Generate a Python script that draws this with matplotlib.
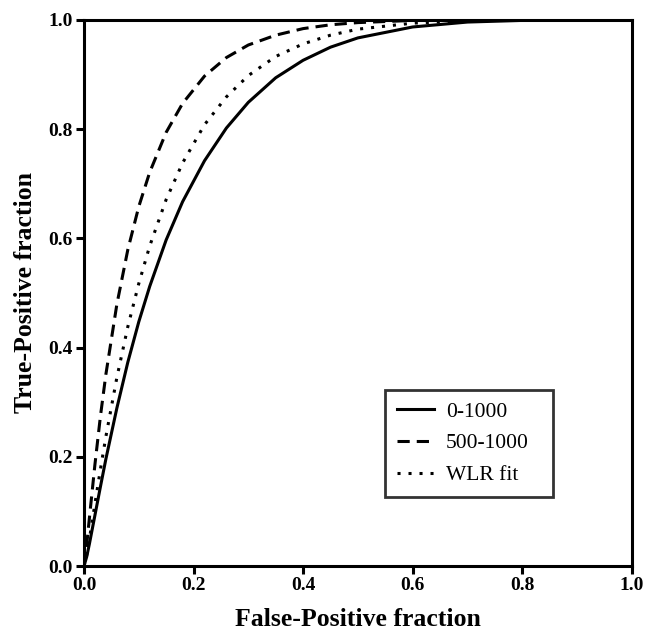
import matplotlib
matplotlib.use('Agg')
import matplotlib.pyplot as plt

# values
fpf = [0.0, 0.005, 0.01, 0.02, 0.03, 0.04, 0.06, 0.08, 0.10, 0.12, 0.15, 0.18,
       0.22, 0.26, 0.30, 0.35, 0.40, 0.45, 0.50, 0.60, 0.70, 0.80, 0.90, 1.0]
tpf_all = [0.0, 0.017, 0.041, 0.093, 0.145, 0.196, 0.289, 0.373, 0.447, 0.512, 0.597, 0.667,
           0.742, 0.802, 0.849, 0.894, 0.926, 0.950, 0.967, 0.987, 0.996, 0.999, 1.0, 1.0]
tpf_500 = [0.0, 0.039, 0.089, 0.186, 0.274, 0.351, 0.479, 0.579, 0.658, 0.721, 0.794, 0.847,
           0.897, 0.931, 0.954, 0.972, 0.984, 0.991, 0.995, 0.999, 1.0, 1.0, 1.0, 1.0]
tpf_wlr = [0.0, 0.020, 0.050, 0.114, 0.177, 0.237, 0.345, 0.438, 0.517, 0.586, 0.671, 0.738,
           0.808, 0.859, 0.898, 0.933, 0.956, 0.972, 0.983, 0.994, 0.9985, 1.0, 1.0, 1.0]
labels = ["0-1000", "500-1000", "WLR fit"]
ticks = [0.0, 0.2, 0.4, 0.6, 0.8, 1.0]

serif = ['Liberation Serif', 'DejaVu Serif']

fig = plt.figure(figsize=(6.46, 6.41), dpi=100)
ax = fig.add_axes([0.130, 0.117, 0.848, 0.852])

lw = 2.2
ax.plot(fpf, tpf_all, color='black', lw=lw, ls='-', label=labels[0])
ax.plot(fpf, tpf_500, color='black', lw=lw, ls=(0, (4, 2.3)), label=labels[1])
ax.plot(fpf, tpf_wlr, color='black', lw=lw, ls=(0, (1, 2.6)), label=labels[2])

ax.set_xlim(0, 1)
ax.set_ylim(0, 1)
ax.set_xticks(ticks)
ax.set_yticks(ticks)
ax.set_xticklabels([f"{t:.1f}" for t in ticks], family=serif, fontweight='bold', fontsize=14)
ax.set_yticklabels([f"{t:.1f}" for t in ticks], family=serif, fontweight='bold', fontsize=14)
ax.tick_params(direction='out', length=6, width=2.2, pad=2)

for s in ax.spines.values():
    s.set_linewidth(2.2)

ax.set_xlabel("False-Positive fraction", family=serif, fontweight='bold', fontsize=18.5, labelpad=10)
ax.set_ylabel("True-Positive fraction", family=serif, fontweight='bold', fontsize=18.5, labelpad=8)

leg = ax.legend(loc='lower left', bbox_to_anchor=(0.549, 0.126, 0.307, 0.207), mode='expand',
                prop={'family': serif, 'size': 15.5}, frameon=True, fancybox=False,
                handlelength=1.75, handletextpad=0.55, borderpad=0.55, labelspacing=0.55,
                borderaxespad=0)
leg.get_frame().set_edgecolor('black')
leg.get_frame().set_linewidth(2.0)

fig.savefig('out.png', dpi=100)
